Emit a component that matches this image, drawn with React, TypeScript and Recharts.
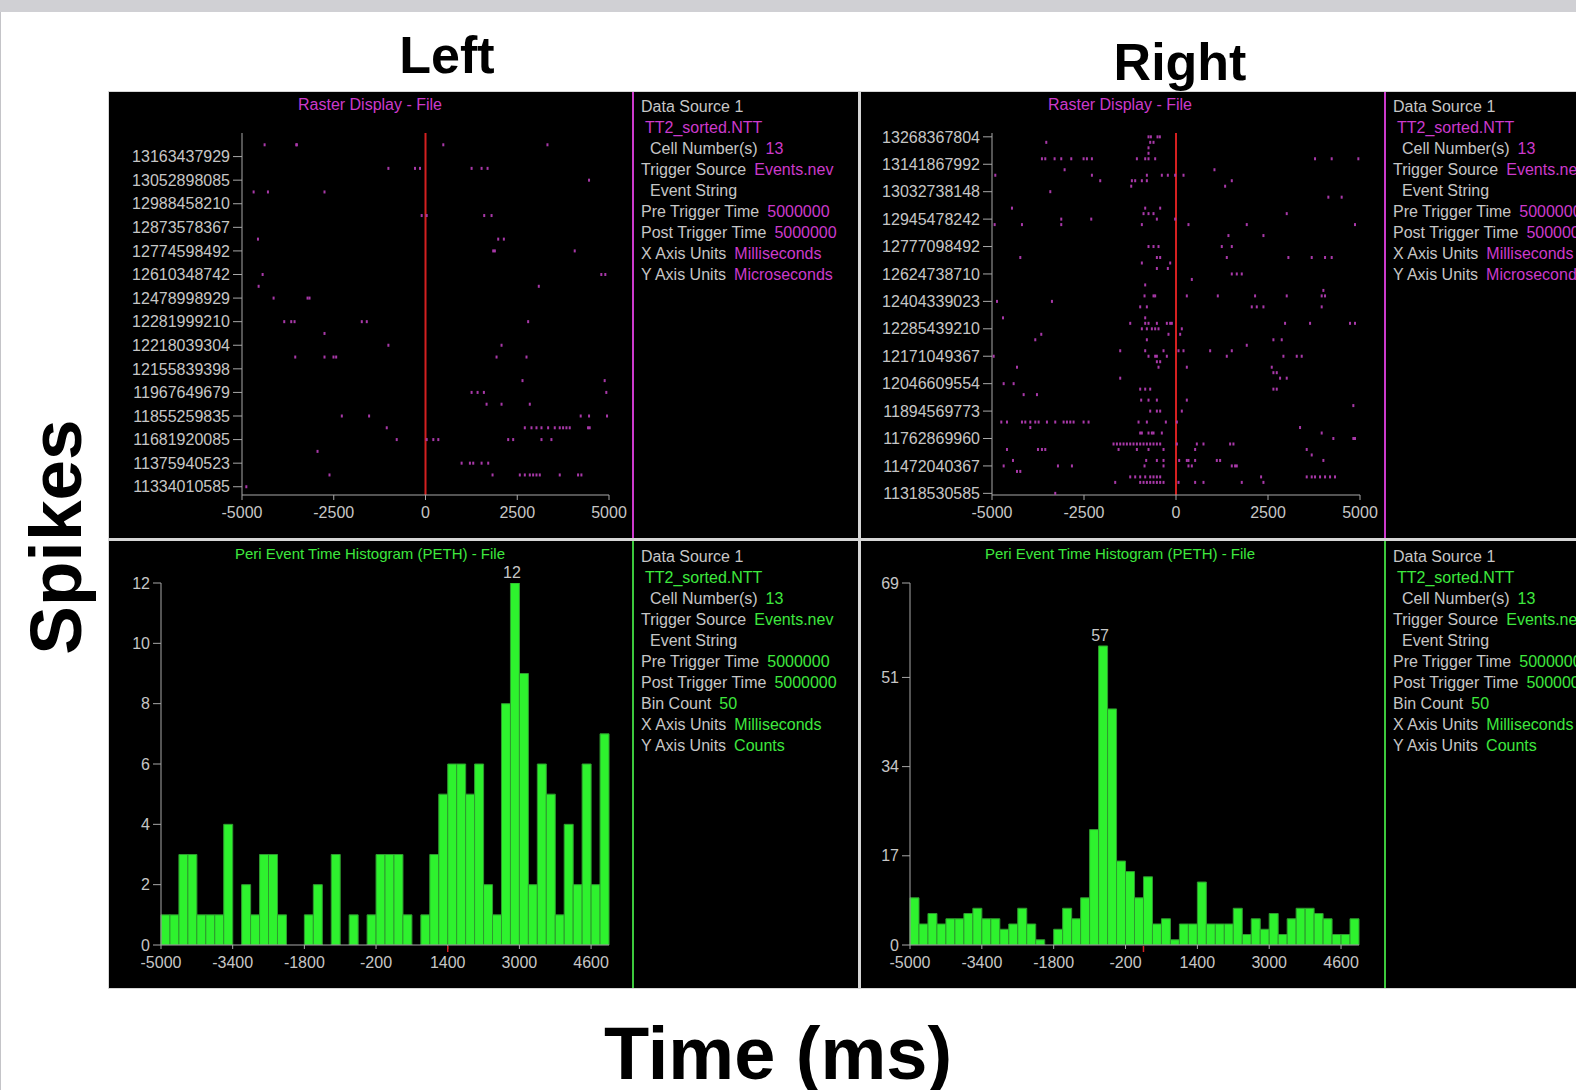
import React from 'react';
import { BarChart, Bar, ScatterChart, Scatter, XAxis, YAxis, ReferenceLine, LabelList } from 'recharts';

const FONT = '"Liberation Sans", Arial, sans-serif';
const GRAY = '#c6c6c6';
const AXIS = '#a8a8a8';
const MAGENTA = '#cc3acc';
const SPIKE = '#a838a8';
const GREEN = '#3ee83e';
const BAR_GREEN = '#2ef22e';
const RED = '#d42020';

// time axes (ms)
const RASTER_TICKS = [-5000, -2500, 0, 2500, 5000];
const PETH_TICKS = [-5000, -3400, -1800, -200, 1400, 3000, 4600];

// trial timestamps shown on the raster y axes, bottom to top
const LEFT_TRIAL_LABELS = [
    '11334010585', '11375940523', '11681920085', '11855259835', '11967649679',
    '12155839398', '12218039304', '12281999210', '12478998929', '12610348742',
    '12774598492', '12873578367', '12988458210', '13052898085', '13163437929',
];
const RIGHT_TRIAL_LABELS = [
    '11318530585', '11472040367', '11762869960', '11894569773', '12046609554',
    '12171049367', '12285439210', '12404339023', '12624738710', '12777098492',
    '12945478242', '13032738148', '13141867992', '13268367804',
];

// [trial row, spike times in ms]
const LEFT_SPIKES: [number, number[]][] = [
    [29, [-4384, -3522, -3504, 485, 3323]],
    [27, [-1011, -286, -150, 1256, 1528, 1691]],
    [26, [4456]],
    [25, [-4683, -4293, -2752]],
    [23, [-104, 32, 1600, 1800]],
    [21, [-4565, 1981, 2135]],
    [20, [1845, 1890, 4066]],
    [18, [-4438, 4791, 4900]],
    [17, [-4547, 3087]],
    [16, [-4139, -3214, -3160]],
    [14, [-3849, -3658, -3568, -1736, -1600, 2797]],
    [13, [-2752]],
    [12, [-1011, 2072]],
    [11, [-3549, -2752, -2507, -2434, 1936, 2752]],
    [9, [2643, 4882]],
    [8, [1256, 1419, 1591, 4927]],
    [7, [1664, 2072, 2842]],
    [6, [-2280, -1537, 4229, 4456, 4946]],
    [5, [-1056, 2706, 2888, 3024, 3160, 3341, 3522, 3658, 3749, 3840, 3930, 4429, 4474]],
    [4, [-784, 32, 213, 349, 2253, 2389, 3160, 3431]],
    [3, [-2942]],
    [2, [984, 1210, 1301, 1528, 1709]],
    [1, [-2616, 1827, 2570, 2706, 2842, 2933, 3024, 3114, 3658, 4157, 4248]],
    [0, [-4882]],
];

const RIGHT_SPIKES: [number, number[]][] = [
    [65, [-747, -683, -502, -439]],
    [64, [-3525, -701, -611]],
    [63, [-747]],
    [62, [-747]],
    [61, [-3643, -3552, -3299, -3118, -2846, -2511, -2421, -2285, -1063, -837, -747, -566, 3778, 4231, 4955]],
    [59, [-3027, 1045]],
    [58, [-4910, -2285, -792, -385, -222, -23, 204]],
    [57, [-2059, -1199, -1109, -928, -792, 1516]],
    [56, [-1217, 1335]],
    [55, [-3416]],
    [54, [4140, 4502]],
    [52, [-4457, -837, -430]],
    [51, [-882, -747, -611, 3009]],
    [50, [-3118, -2303, -520, -23]],
    [49, [-4928, -4186, -3118, -928, 339, 1923, 4864]],
    [47, [1425, 2376]],
    [45, [-747, -611, -475, 1244, 1516]],
    [43, [-4231, -520, -430, 1380, 3054, 3688, 4050, 4231]],
    [42, [-928, -158]],
    [41, [-520, -222]],
    [40, [1516, 1652, 1787]],
    [39, [430]],
    [38, [-837]],
    [37, [4005]],
    [36, [-855, -611, -566, 294, 1136, 2149, 3009, 3959, 4050]],
    [35, [-4864, -3371]],
    [34, [-973, -792, 2059, 2195, 2376, 3959]],
    [32, [-4701, -837]],
    [31, [-1244, -837, -747, -520, -249, -158, -113, 2964, 3643, 4729, 4864]],
    [30, [-928, -792, -656, -566, -475, 158]],
    [29, [-3661, -204, 113]],
    [28, [-3824, -792, 2647, 2873]],
    [27, [1923]],
    [26, [-1516, -837, -339, 68, 204, 928, 1516]],
    [25, [-4955, -747, -566, -520, -249, 1380, 2919, 3281, 3416]],
    [24, [-520, -430]],
    [23, [-4321, -475, 294, 2602]],
    [22, [2647, 2738]],
    [21, [-1516, 2828, 3009]],
    [20, [-4683, -4412]],
    [19, [-973, -837, -701, 2647, 2738]],
    [18, [-4140, -3778]],
    [17, [-946, -747, -520, 294]],
    [16, [4819]],
    [15, [-701, -520, -430, 158]],
    [13, [-4747, -4593, -4186, -4095, -3959, -3824, -3733, -3507, -3281, -3054, -2964, -2873, -2783, -2511, -2376, -1018, -792, -276, 23]],
    [12, [-3959, 3371]],
    [11, [-973, -928, -747, -656, -611, -385, 3959]],
    [10, [4276, 4819, 4864]],
    [9, [-1697, -1606, -1516, -1425, -1335, -1244, -1154, -1063, -973, -882, -792, -701, -611, -520, -430, 23, 566, 747, 1471, 1561]],
    [8, [-4593, -3751, -3643, -3552, -1561, -1063, -747, -339, 520, 3552]],
    [7, [3688]],
    [6, [-4430, -810, -520, -339, 86, 294, 339, 520, 1109, 1199, 4005]],
    [5, [-4683, -3208, -2828, -855, -339, 339, 430, 1516, 1606, 1652]],
    [4, [-4321, -4231]],
    [3, [-1244, -1109, -973, -837, -701, -611, -520, -430, 2312, 3552, 3688, 3778, 3914, 4050, 4186, 4321]],
    [2, [-1652, -973, -882, -792, -701, -611, -520, -430, -339, 68, 520, 747, 1787, 2376]],
    [0, [-3281]],
];

// PETH: 50 bins of 200 ms
const BIN_STARTS = [
    -5000, -4800, -4600, -4400, -4200, -4000, -3800, -3600, -3400, -3200,
    -3000, -2800, -2600, -2400, -2200, -2000, -1800, -1600, -1400, -1200,
    -1000, -800, -600, -400, -200, 0, 200, 400, 600, 800,
    1000, 1200, 1400, 1600, 1800, 2000, 2200, 2400, 2600, 2800,
    3000, 3200, 3400, 3600, 3800, 4000, 4200, 4400, 4600, 4800,
];
const LEFT_COUNTS = [
    1, 1, 3, 3, 1, 1, 1, 4, 0, 2,
    1, 3, 3, 1, 0, 0, 1, 2, 0, 3,
    0, 1, 0, 1, 3, 3, 3, 1, 0, 1,
    3, 5, 6, 6, 5, 6, 2, 1, 8, 12,
    9, 2, 6, 5, 1, 4, 2, 6, 2, 7,
];
const RIGHT_COUNTS = [
    9, 4, 6, 4, 5, 5, 6, 7, 5, 5,
    3, 4, 7, 4, 1, 0, 3, 7, 5, 9,
    22, 57, 45, 16, 14, 9, 13, 4, 5, 1,
    4, 4, 12, 4, 4, 4, 7, 2, 5, 3,
    6, 2, 5, 7, 7, 6, 5, 2, 2, 5,
];
const LEFT_COUNT_TICKS = [0, 2, 4, 6, 8, 10, 12];
const RIGHT_COUNT_TICKS = [0, 17, 34, 51, 69];

const RASTER_INFO: [string, string, number][] = [
    ['Data Source 1', '', 0],
    ['', 'TT2_sorted.NTT', 4],
    ['Cell Number(s)', '13', 9],
    ['Trigger Source', 'Events.nev', 0],
    ['Event String', '', 9],
    ['Pre Trigger Time', '5000000', 0],
    ['Post Trigger Time', '5000000', 0],
    ['X Axis Units', 'Milliseconds', 0],
    ['Y Axis Units', 'Microseconds', 0],
];
const PETH_INFO: [string, string, number][] = [
    ['Data Source 1', '', 0],
    ['', 'TT2_sorted.NTT', 4],
    ['Cell Number(s)', '13', 9],
    ['Trigger Source', 'Events.nev', 0],
    ['Event String', '', 9],
    ['Pre Trigger Time', '5000000', 0],
    ['Post Trigger Time', '5000000', 0],
    ['Bin Count', '50', 0],
    ['X Axis Units', 'Milliseconds', 0],
    ['Y Axis Units', 'Counts', 0],
];

const tickStyle = { fill: GRAY, fontSize: 16, fontFamily: FONT };
const PANEL_W = 523;
const PETH_Y_W = 40;

function SpikeMark(props: any) {
    const { cx, cy } = props;
    if (cx == null || cy == null) return null;
    return <rect x={cx - 1} y={cy - 1.5} width={2} height={3} fill={SPIKE} />;
}

function Raster({ spikes, labels, step, yDomain, left, right }: any) {
    const points = spikes.flatMap(([row, times]: [number, number[]]) => times.map((t) => ({ t, row })));
    const ticks = labels.map((_: string, i: number) => i * step);
    return (
        <ScatterChart width={PANEL_W} height={446} margin={{ top: 41, right, bottom: 13, left }}>
            <XAxis type="number" dataKey="t" domain={[-5000, 5000]} ticks={RASTER_TICKS} allowDataOverflow
                height={30} stroke={AXIS} tickSize={5} tickMargin={7} tick={tickStyle} />
            <YAxis type="number" dataKey="row" domain={yDomain} ticks={ticks} allowDataOverflow
                tickFormatter={(v: number) => labels[Math.round(v / step)]}
                width={120} stroke={AXIS} tickSize={9} tickMargin={3} tick={tickStyle} />
            <ReferenceLine x={0} stroke={RED} strokeWidth={2} />
            <Scatter data={points} shape={SpikeMark} isAnimationActive={false} />
        </ScatterChart>
    );
}

function Peth({ counts, yTicks, left, right }: any) {
    const rows = BIN_STARTS.map((start, i) => ({ start, count: counts[i] }));
    const peak = Math.max(...counts);
    const yMax = yTicks[yTicks.length - 1];
    const half = (PANEL_W - left - PETH_Y_W - right) / BIN_STARTS.length / 2;
    // ticks sit on the bin's left edge, not its centre
    const EdgeTick = (p: any) => {
        const x = p.x - half;
        return (
            <g>
                <line x1={x} x2={x} y1={p.y - 12} y2={p.y - 8} stroke={AXIS} />
                <text x={x} y={p.y} dy="0.71em" textAnchor="middle" fill={GRAY} fontSize={16} fontFamily={FONT}>{p.payload.value}</text>
                {p.payload.value === 0 ? null : null}
            </g>
        );
    };
    const ZeroMark = (p: any) => {
        if (p.index !== BIN_STARTS.indexOf(0)) return null;
        const x = p.x;
        const y = p.y + p.height;
        return <line x1={x} x2={x} y1={y + 1} y2={y + 7} stroke={RED} strokeWidth={1.5} />;
    };
    return (
        <BarChart width={PANEL_W} height={447} data={rows} margin={{ top: 42, right, bottom: 13, left }}
            barCategoryGap={0} barGap={0}>
            <XAxis dataKey="start" type="category" ticks={PETH_TICKS} interval={0} tickLine={false}
                height={30} stroke={AXIS} tickSize={4} tickMargin={8} tick={EdgeTick} />
            <YAxis type="number" domain={[0, yMax]} ticks={yTicks} allowDataOverflow
                width={PETH_Y_W} stroke={AXIS} tickSize={8} tickMargin={3} tick={tickStyle} />
            <Bar dataKey="count" fill={BAR_GREEN} stroke="#2f9a2f" strokeWidth={1} isAnimationActive={false}>
                <LabelList dataKey="count" content={(p: any) => p.value === peak ? (
                    <text x={p.x + p.width / 2 - 3} y={p.y - 5} fill={GRAY} fontSize={16} fontFamily={FONT} textAnchor="middle">{p.value}</text>
                ) : null} />
                <LabelList dataKey="count" content={ZeroMark} />
            </Bar>
        </BarChart>
    );
}

function Info({ lines, color, top }: any) {
    return (
        <div style={{ position: 'absolute', left: 532, top, fontFamily: FONT, fontSize: 16, lineHeight: '21px', whiteSpace: 'nowrap' }}>
            {lines.map(([label, value, indent]: [string, string, number], i: number) => (
                <div key={i} style={{ paddingLeft: indent }}>
                    {label && <span style={{ color: GRAY }}>{label}</span>}
                    {value && <span style={{ color, marginLeft: label ? 8 : 0 }}>{value}</span>}
                </div>
            ))}
        </div>
    );
}

function Panel({ x, y, w, h, title, titleColor, titleSize, titleX, lineColor, children, info }: any) {
    return (
        <div style={{ position: 'absolute', left: x, top: y, width: w, height: h, background: '#000', overflow: 'hidden' }}>
            <div style={{ position: 'absolute', left: 0, top: 0 }}>{children}</div>
            <div style={{ position: 'absolute', left: titleX - 200, width: 400, top: 3, textAlign: 'center', color: titleColor, fontFamily: FONT, fontSize: titleSize, lineHeight: '20px' }}>{title}</div>
            <div style={{ position: 'absolute', left: PANEL_W, top: 0, width: 2, height: h, background: lineColor }} />
            {info}
        </div>
    );
}

export default function App() {
    return (
        <div style={{ position: 'absolute', left: 0, top: 0, width: 1576, height: 1090, background: '#fff', overflow: 'hidden' }}>
            <div style={{ position: 'absolute', left: 0, top: 0, width: 1576, height: 12, background: '#d0d0d4' }} />
            <div style={{ position: 'absolute', left: 0, top: 12, width: 1, height: 1078, background: '#c4c4c8' }} />
            <div style={{ position: 'absolute', left: 108, top: 91, width: 1468, height: 898, background: '#d6d6d6' }} />

            <Panel x={109} y={92} w={749} h={446} title="Raster Display - File" titleColor={MAGENTA} titleSize={16} titleX={261}
                lineColor={MAGENTA} info={<Info lines={RASTER_INFO} color={MAGENTA} top={4} />}>
                <Raster spikes={LEFT_SPIKES} labels={LEFT_TRIAL_LABELS} step={2} yDomain={[-0.7, 30]} left={13} right={23} />
            </Panel>
            <Panel x={861} y={92} w={715} h={446} title="Raster Display - File" titleColor={MAGENTA} titleSize={16} titleX={259}
                lineColor={MAGENTA} info={<Info lines={RASTER_INFO} color={MAGENTA} top={4} />}>
                <Raster spikes={RIGHT_SPIKES} labels={RIGHT_TRIAL_LABELS} step={5} yDomain={[-0.3, 65.7]} left={11} right={24} />
            </Panel>
            <Panel x={109} y={541} w={749} h={447} title="Peri Event Time Histogram (PETH) - File" titleColor={GREEN} titleSize={15} titleX={261}
                lineColor="#3cc83c" info={<Info lines={PETH_INFO} color={GREEN} top={5} />}>
                <Peth counts={LEFT_COUNTS} yTicks={LEFT_COUNT_TICKS} left={12} right={23} />
            </Panel>
            <Panel x={861} y={541} w={715} h={447} title="Peri Event Time Histogram (PETH) - File" titleColor={GREEN} titleSize={15} titleX={259}
                lineColor="#3cc83c" info={<Info lines={PETH_INFO} color={GREEN} top={5} />}>
                <Peth counts={RIGHT_COUNTS} yTicks={RIGHT_COUNT_TICKS} left={9} right={25} />
            </Panel>

            <svg width={1576} height={1090} style={{ position: 'absolute', left: 0, top: 0, pointerEvents: 'none' }}>
                <g fontFamily={FONT} fontWeight="bold" fill="#000" textAnchor="middle">
                    <text x={447} y={73} fontSize={52}>Left</text>
                    <text x={1180} y={80} fontSize={52}>Right</text>
                    <text transform="translate(81,537) rotate(-90)" fontSize={73}>Spikes</text>
                    <text x={778} y={1079} fontSize={74}>Time (ms)</text>
                </g>
            </svg>
        </div>
    );
}
